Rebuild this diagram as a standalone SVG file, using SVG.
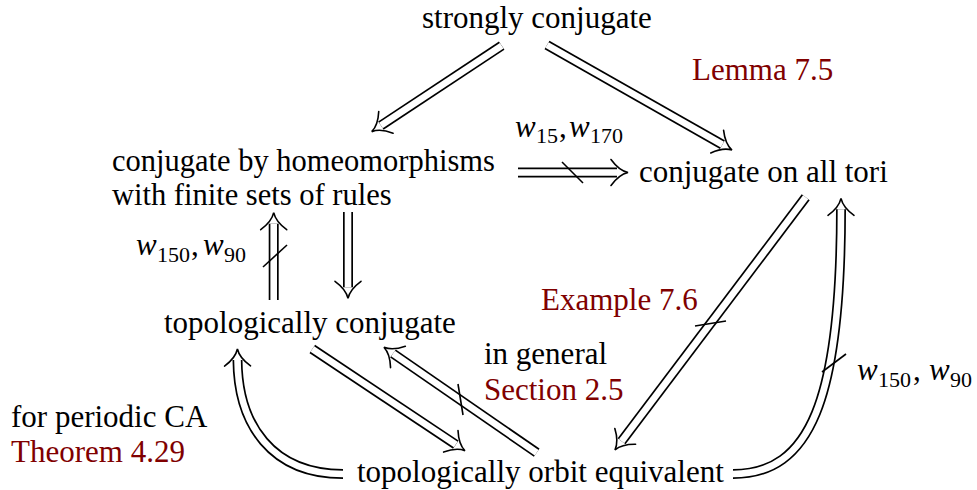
<svg xmlns="http://www.w3.org/2000/svg" width="977" height="490" viewBox="0 0 977 490">
<style>
text{font-family:"Liberation Serif","Times New Roman",serif;font-size:31px;fill:#000}
.r{fill:#800000}
.i{font-style:italic}
.s{font-size:22px}
.h{font-size:30.5px}
.o{fill:none;stroke:#000;stroke-width:10}
.w{fill:none;stroke:#fff;stroke-width:6.6;marker-end:url(#ah)}
.sl{stroke:#000;stroke-width:1.6;fill:none}
</style>
<defs>
<marker id="ah" markerUnits="userSpaceOnUse" viewBox="-20 -16 24 32" markerWidth="24" markerHeight="32" refX="-11" refY="0" orient="auto" overflow="visible">
<path d="M-17,-13 Q-9,-2 0,0 Q-9,2 -17,13" fill="none" stroke="#000" stroke-width="1.6" stroke-linecap="round"/>
</marker>
</defs>
<rect width="977" height="490" fill="#fff"/>
<g id="connectors">
<path class="o" d="M501.7,45.7 L380.9,125.6"/><path class="w" d="M501.7,45.7 L380.9,125.6"/>
<path class="o" d="M547,45 L722.4,144.6"/><path class="w" d="M547,45 L722.4,144.6"/>
<path class="o" d="M518,172.5 L617,172.5"/><path class="w" d="M518,172.5 L617,172.5"/>
<line class="sl" x1="562" y1="162" x2="583" y2="183"/>
<path class="o" d="M273.7,300 L273.7,223.7"/><path class="w" d="M273.7,300 L273.7,223.7"/>
<line class="sl" x1="263" y1="267" x2="287" y2="245"/>
<path class="o" d="M348,212 L348,287.3"/><path class="w" d="M348,212 L348,287.3"/>
<path class="o" d="M312.3,349 L455.8,444.6"/><path class="w" d="M312.3,349 L455.8,444.6"/>
<path class="o" d="M536.7,452.7 L393,353.5"/><path class="w" d="M536.7,452.7 L393,353.5"/>
<line class="sl" x1="458" y1="384" x2="463" y2="415"/>
<path class="o" d="M805.7,197.3 L621.6,441.2"/><path class="w" d="M805.7,197.3 L621.6,441.2"/>
<line class="sl" x1="695" y1="326" x2="726" y2="321"/>
<path class="o" d="M733,474 C810,474 841,400 841,209.3"/><path class="w" d="M733,474 C810,474 841,400 841,209.3"/>
<line class="sl" x1="822" y1="372" x2="846" y2="354"/>
<path class="o" d="M343,474 C272,474 238,425 237.5,360"/><path class="w" d="M343,474 C272,474 238,425 237.5,360"/>
</g>
<g id="n-strong"><text x="422" y="28">strongly conjugate</text></g>
<g id="n-homeo"><text class="h"><tspan x="112" y="171">conjugate by homeomorphisms</tspan><tspan x="112" y="205">with finite sets of rules</tspan></text></g>
<g id="n-tori"><text x="639" y="182">conjugate on all tori</text></g>
<g id="n-topconj"><text x="164" y="333">topologically conjugate</text></g>
<g id="n-orbit"><text x="357" y="482">topologically orbit equivalent</text></g>
<g id="labels">
<text class="r" x="692" y="80">Lemma 7.5</text>
<text y="137"><tspan x="515" class="i">w</tspan><tspan x="536" dy="6" class="s">15</tspan><tspan x="559" dy="-6">,</tspan><tspan x="569" class="i">w</tspan><tspan x="590" dy="6" class="s">170</tspan></text>
<text y="255"><tspan x="136" class="i">w</tspan><tspan x="157" dy="7" class="s">150</tspan><tspan x="191" dy="-7">,</tspan><tspan x="203" class="i">w</tspan><tspan x="224" dy="7" class="s">90</tspan></text>
<text y="380"><tspan x="857" class="i">w</tspan><tspan x="878" dy="7" class="s">150</tspan><tspan x="913" dy="-7">,</tspan><tspan x="929" class="i">w</tspan><tspan x="950" dy="7" class="s">90</tspan></text>
<text class="r" x="541" y="310">Example 7.6</text>
<text x="484" y="364">in general</text>
<text class="r" x="484" y="400">Section 2.5</text>
<text x="11" y="427">for periodic CA</text>
<text class="r" x="11" y="462">Theorem 4.29</text>
</g>
</svg>
